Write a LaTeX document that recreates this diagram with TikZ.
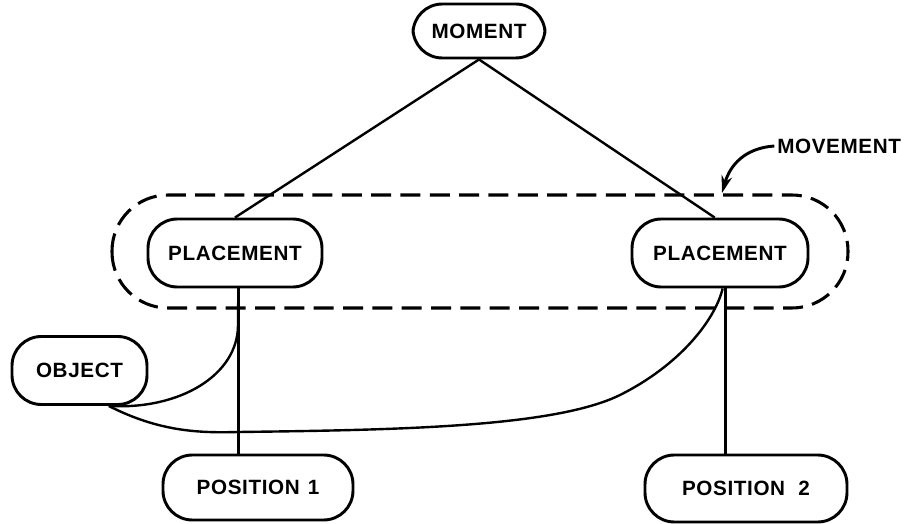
\documentclass[tikz,border=0pt]{standalone}
\usepackage{fontspec}
\setmainfont{Liberation Sans}[LetterSpace=3]
\usetikzlibrary{arrows.meta,calc}

\tikzset{
  box/.style={draw, line width=2.2pt, rounded corners=22pt, inner sep=0pt,
              font=\bfseries\fontsize{15.5pt}{18pt}\selectfont},
  link/.style={line width=1.8pt},
  group/.style={line width=2.3pt, dash pattern=on 15pt off 7pt, rounded corners=42pt},
  tag/.style={font=\bfseries\fontsize{15.5pt}{18pt}\selectfont, inner sep=0pt},
}

\begin{document}
\begin{tikzpicture}[x=0.75pt, y=-0.75pt]
  \useasboundingbox (0,0) rectangle (908,524);

  % concept nodes
  \node[box, minimum width=99pt,    minimum height=40.5pt]  (mom)  at (479,31)    {MOMENT};
  \node[box, minimum width=130.5pt, minimum height=51pt]    (pl1)  at (235,253)   {PLACEMENT};
  \node[box, minimum width=132pt,   minimum height=51pt]    (pl2)  at (720,253)   {PLACEMENT};
  \node[box, minimum width=101.25pt,minimum height=51pt]    (obj)  at (79.5,370.5){OBJECT};
  \node[box, minimum width=142.5pt, minimum height=48.75pt] (pos1) at (258,487.5) {POSITION\hspace{6pt}1\hspace{14pt}};
  \node[box, minimum width=151.5pt, minimum height=50.25pt] (pos2) at (746,488.5) {POSITION\hspace{10pt}2\hspace{4pt}};

  % dashed grouping of the two placements
  \draw[group] (112,195) rectangle (848,308);

  % label for the group
  \node[tag, anchor=west] (mv) at (777,146) {MOVEMENT};
  \coordinate (mvtip) at (722,193);
  \draw[line width=2.2pt, -{Stealth[length=13pt, width=8pt]}]
    ([xshift=-2pt]mv.west) .. controls (745,148) and (730,165) .. (mvtip);

  % moment to placements
  \draw[link] (mom.south) -- (pl1.north);
  \draw[link] (mom.south) -- ([xshift=-4pt]pl2.north);

  % placements to positions
  \draw[link] ([xshift=2.5pt]pl1.south) -- ([xshift=2.5pt]pl1.south |- pos1.north);
  \draw[link] ([xshift=4pt]pl2.south) -- ([xshift=4pt]pl2.south |- pos2.north);

  % object to placements
  \coordinate (objc) at ([xshift=22pt]obj.south);
  \draw[link] (objc) .. controls (180,410) and (238,375) .. (238,325)
    -- ([xshift=2.5pt]pl1.south);
  \draw[link] (objc) .. controls (160,432) and (200,433) .. (238,432)
    .. controls (400,430) and (555,427) .. (620,395)
    .. controls (680,365) and (715,320) .. ([xshift=2pt]pl2.south);
\end{tikzpicture}
\end{document}
